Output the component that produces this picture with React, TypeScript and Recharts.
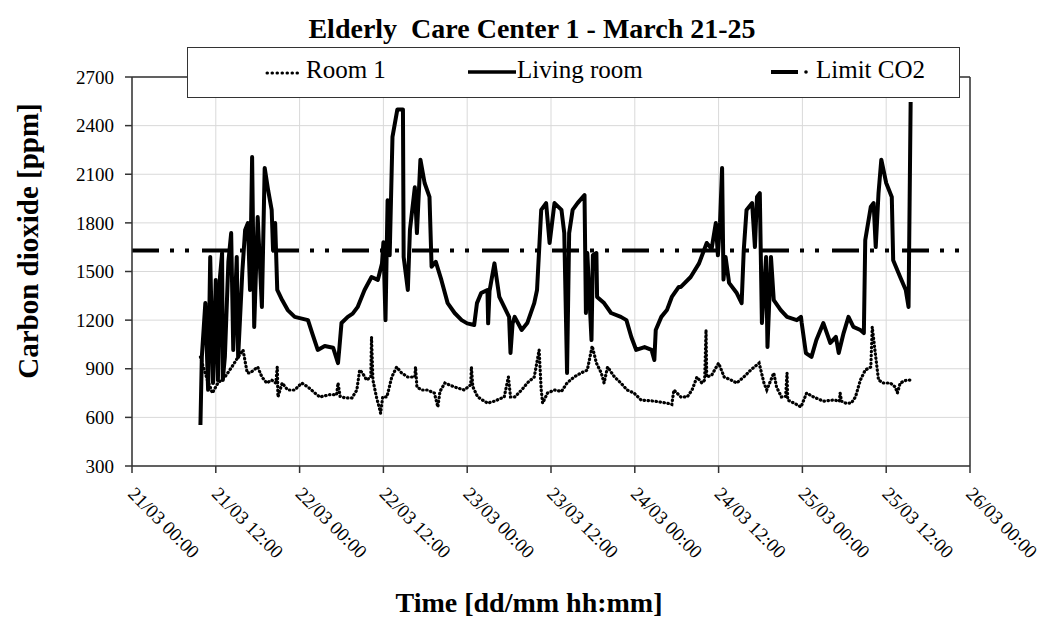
import React from "react";
import {
  LineChart,
  Line,
  XAxis,
  YAxis,
  CartesianGrid,
  ReferenceLine,
} from "recharts";

// hours since 21/03 00:00
const xTicks = [0, 12, 24, 36, 48, 60, 72, 84, 96, 108, 120];
const xTickLabels = [
  "21/03 00:00", "21/03 12:00", "22/03 00:00", "22/03 12:00", "23/03 00:00",
  "23/03 12:00", "24/03 00:00", "24/03 12:00", "25/03 00:00", "25/03 12:00",
  "26/03 00:00",
];
const yTicks = [300, 600, 900, 1200, 1500, 1800, 2100, 2400, 2700];

const limitCO2 = 1630;

const livingHours = [
  9.8, 10.0, 10.5, 10.9, 11.2, 11.6, 12.0, 12.3, 12.6, 12.9, 13.0, 13.3, 13.8,
  14.2, 14.5, 15.0, 15.2, 15.8, 16.2, 16.6, 16.9, 17.2, 17.5, 18.0, 18.6, 19.0,
  19.5, 20.0, 20.2, 20.5, 20.8, 21.5, 22.3, 23.3, 25.2, 25.8, 26.6, 27.6, 28.8,
  29.5, 29.7, 30.0, 30.9, 31.6, 32.3, 33.3, 34.3, 35.2, 35.8, 36.0, 36.3, 36.6,
  36.9, 37.3, 38.0, 38.8, 38.9, 39.5, 39.8, 40.5, 40.8, 41.3, 41.9, 42.6, 42.9,
  43.5, 44.3, 45.2, 46.2, 47.2, 48.0, 49.0, 49.4, 50.0, 50.9, 51.0, 51.2, 51.9,
  52.6, 53.3, 54.0, 54.2, 54.5, 54.8, 55.8, 56.6, 57.6, 58.0, 58.6, 59.3, 59.8,
  60.5, 61.5, 61.9, 62.3, 62.6, 63.1, 63.8, 64.8, 65.0, 65.2, 65.8, 66.0, 66.5,
  66.6, 67.6, 68.6, 70.0, 70.8, 71.5, 72.2, 73.4, 74.4, 74.8, 75.0, 75.8, 76.6,
  77.3, 78.3, 78.6, 80.0, 81.2, 82.3, 83.0, 83.6, 83.9, 84.2, 84.5, 84.7, 85.0,
  85.5, 86.6, 87.3, 87.6, 88.0, 88.8, 89.2, 89.5, 89.9, 90.2, 90.8, 91.0, 91.5,
  91.9, 92.9, 93.8, 95.2, 95.8, 95.9, 96.5, 97.3, 98.0, 99.0, 100.0, 100.8,
  101.2, 101.9, 102.6, 103.3, 104.3, 104.8, 105.0, 105.8, 106.2, 106.5, 106.9,
  107.3, 108.0, 108.8, 109.0, 110.0, 110.8, 111.2, 111.5,
];
const livingPpm = [
  553, 973, 1305, 770, 1590, 812, 1448, 830, 1466, 1614, 830, 973, 1560,
  1737, 1016, 1590, 973, 1500, 1756, 1799, 1386, 2207, 1158, 1836, 1281, 2139,
  2000, 1880, 1630, 1799, 1386, 1324, 1262, 1220, 1200, 1120, 1016, 1040, 1030,
  935, 1030, 1182, 1220, 1240, 1280, 1386, 1466, 1448, 1550, 1680, 1200, 1940,
  1600, 2330, 2500, 2500, 1590, 1386, 1756, 2020, 1737, 2190, 2046, 1960, 1530,
  1560, 1448, 1305, 1244, 1200, 1180, 1170, 1305, 1367, 1386, 1180, 1380, 1550,
  1343, 1281, 1220, 997, 1180, 1220, 1139, 1182, 1305, 1386, 1880, 1922, 1676,
  1922, 1880, 1737, 874, 1737, 1880, 1922, 1972, 1244, 1614, 1077, 1600, 1614,
  1343, 1305, 1244, 1220, 1200, 1096, 1016, 1034, 1016, 954, 1139, 1220, 1262,
  1343, 1405, 1405, 1466, 1550, 1676, 1640, 1799, 1600, 1800, 2139, 1450, 1590,
  1430, 1367, 1305, 1630, 1880, 1922, 1651, 1960, 1984, 1182, 1590, 1034, 1590,
  1324, 1262, 1220, 1200, 1220, 1182, 997, 973, 1077, 1182, 1059, 1096,
  997, 1120, 1220, 1158, 1139, 1120, 1694, 1900, 1922, 1651, 1984,
  2190, 2046, 1960, 1570, 1466, 1386, 1281, 2546,
];

const roomHours = [
  9.8, 10.2, 10.8, 11.2, 11.5, 12.3, 13.3, 14.3, 15.2, 15.9, 16.5, 16.9, 18.0,
  18.6, 19.3, 20.0, 20.6, 20.8, 20.9, 21.5, 22.3, 23.3, 24.3, 25.2, 26.2, 26.9,
  28.3, 29.3, 29.5, 29.8, 30.5, 31.5, 32.2, 32.6, 33.0, 33.6, 34.2, 34.3, 34.5,
  35.0, 35.5, 35.6, 35.9, 36.5, 37.2, 37.9, 38.6, 39.5, 40.5, 40.6, 40.8, 41.5,
  42.3, 43.3, 43.8, 44.1, 44.8, 46.2, 47.6, 48.5, 48.6, 48.8, 49.5, 50.9, 51.9,
  53.3, 53.9, 54.2, 54.8, 55.8, 56.6, 57.6, 58.3, 58.6, 58.8, 59.5, 60.5, 61.5,
  62.3, 63.3, 64.3, 65.2, 65.9, 66.5, 67.2, 67.6, 68.1, 69.1, 70.0, 70.9, 71.9,
  72.9, 74.8, 76.6, 77.3, 77.6, 78.6, 79.5, 80.2, 80.9, 81.6, 82.0, 82.2, 82.3,
  83.0, 84.0, 84.8, 85.8, 86.6, 87.6, 88.6, 89.8, 90.5, 90.9, 91.9, 92.3, 93.0,
  93.6, 93.8, 93.9, 94.8, 95.8, 96.6, 97.6, 99.0, 100.5, 101.3, 101.4, 101.6,
  102.2, 103.0, 103.6, 104.3, 105.0, 105.8, 106.0, 106.5, 106.9, 107.6, 108.6,
  109.3, 109.6, 110.0, 110.9, 111.5,
];
const roomPpm = [
  973, 911, 830, 787, 750, 812, 849, 911, 973, 1016, 874, 874, 911,
  849, 812, 830, 812, 911, 726, 812, 769, 769, 812, 787, 750, 726,
  740, 740, 812, 730, 720, 720, 769, 892, 874, 830, 850, 1096, 830,
  726, 646, 625, 726, 726, 849, 911, 874, 849, 849, 911, 787, 769,
  769, 750, 664, 760, 812, 787, 769, 800, 911, 790, 726, 688, 700,
  726, 849, 726, 726, 769, 812, 849, 1016, 769, 688, 750, 769, 760,
  812, 849, 874, 892, 1040, 935, 874, 812, 911, 849, 812, 769, 750,
  707, 700, 688, 680, 769, 726, 726, 769, 849, 812, 830, 1139, 849,
  860, 935, 849, 830, 812, 849, 892, 935, 812, 769, 874, 787, 726,
  730, 874, 707, 688, 664, 750, 726, 700, 707, 700, 750, 700,
  688, 688, 726, 830, 892, 911, 1158, 973, 830, 812, 812,
  787, 750, 812, 830, 830,
];

const livingData = livingHours.map((t, i) => ({ t, v: livingPpm[i] }));
const roomData = roomHours.map((t, i) => ({ t, v: roomPpm[i] }));

const serif = "Liberation Serif";

function XTick({ x, y, payload }: any) {
  const idx = xTicks.indexOf(payload.value);
  return (
    <text
      transform={`translate(${x - 5},${y + 20}) rotate(45)`}
      fontFamily={serif}
      fontSize={19}
      fill="#000"
      textAnchor="start"
    >
      {xTickLabels[idx]}
    </text>
  );
}

function ChartLegend() {
  return (
    <div
      style={{
        position: "absolute",
        left: 187,
        top: 47,
        width: 773,
        height: 51,
        background: "#fff",
        border: "1.5px solid #333",
        boxSizing: "border-box",
        fontFamily: serif,
        fontSize: 25,
        color: "#000",
      }}
    >
      <svg width={770} height={48} style={{ position: "absolute", left: 0, top: 0 }}>
        <line x1={79} y1={25} x2={113} y2={25} stroke="#000" strokeWidth={3}
          strokeDasharray="0.5 4.5" strokeLinecap="round" />
        <line x1={280} y1={24} x2={328} y2={24} stroke="#000" strokeWidth={3.5} />
        <line x1={583} y1={24} x2={610} y2={24} stroke="#000" strokeWidth={4} />
        <circle cx={618} cy={24} r={1.8} fill="#000" />
      </svg>
      <span style={{ position: "absolute", left: 118, top: 8, lineHeight: "28px" }}>Room 1</span>
      <span style={{ position: "absolute", left: 329, top: 8, lineHeight: "28px" }}>Living room</span>
      <span style={{ position: "absolute", left: 628, top: 8, lineHeight: "28px" }}>Limit CO2</span>
    </div>
  );
}

export default function App() {
  return (
    <div
      style={{
        position: "absolute",
        left: 0,
        top: 0,
        width: 1058,
        height: 631,
        background: "#fff",
      }}
    >
      <div
        style={{
          position: "absolute",
          left: 0,
          width: 1064,
          top: 12,
          textAlign: "center",
          fontFamily: serif,
          fontWeight: "bold",
          fontSize: 28,
          lineHeight: "34px",
        }}
      >
        Elderly&nbsp; Care Center 1 - March 21-25
      </div>
      <LineChart
        width={1058}
        height={631}
        margin={{ top: 77, right: 88, left: 0, bottom: 0 }}
        style={{ position: "absolute", left: 0, top: 0 }}
      >
        <CartesianGrid stroke="#d9d9d9" strokeWidth={1} />
        <XAxis
          type="number"
          dataKey="t"
          domain={[0, 120]}
          ticks={xTicks}
          interval={0}
          height={165}
          tickSize={7}
          tickMargin={2}
          axisLine={{ stroke: "#333", strokeWidth: 1.5 }}
          tickLine={{ stroke: "#333", strokeWidth: 1.5 }}
          tick={<XTick />}
          allowDataOverflow
        />
        <YAxis
          type="number"
          domain={[300, 2700]}
          ticks={yTicks}
          interval={0}
          width={132}
          tickSize={7}
          tickMargin={11}
          axisLine={{ stroke: "#333", strokeWidth: 1.5 }}
          tickLine={{ stroke: "#333", strokeWidth: 1.5 }}
          tick={{ fill: "#000", fontSize: 19, fontFamily: serif }}
          allowDataOverflow
        />
        <ReferenceLine y={2700} stroke="#333" strokeWidth={1.5} />
        <ReferenceLine x={120} stroke="#333" strokeWidth={1.5} />
        <ReferenceLine
          y={limitCO2}
          stroke="#000"
          strokeWidth={4}
          strokeDasharray="27 11 4 11 4 13"
        />
        <Line
          data={roomData}
          dataKey="v"
          type="linear"
          stroke="#000"
          strokeWidth={3.2}
          strokeDasharray="0.5 3.5"
          strokeLinecap="round"
          dot={false}
          isAnimationActive={false}
        />
        <Line
          data={livingData}
          dataKey="v"
          type="linear"
          stroke="#000"
          strokeWidth={4}
          strokeLinejoin="round"
          dot={false}
          isAnimationActive={false}
        />
      </LineChart>
      <ChartLegend />
      <div
        style={{
          position: "absolute",
          left: 28,
          top: 241,
          transform: "translate(-50%, -50%) rotate(-90deg)",
          whiteSpace: "nowrap",
          fontFamily: serif,
          fontWeight: "bold",
          fontSize: 29,
          lineHeight: "34px",
        }}
      >
        Carbon dioxide [ppm]
      </div>
      <div
        style={{
          position: "absolute",
          left: 0,
          width: 1058,
          top: 586,
          textAlign: "center",
          fontFamily: serif,
          fontWeight: "bold",
          fontSize: 28,
          lineHeight: "34px",
        }}
      >
        Time [dd/mm hh:mm]
      </div>
    </div>
  );
}
